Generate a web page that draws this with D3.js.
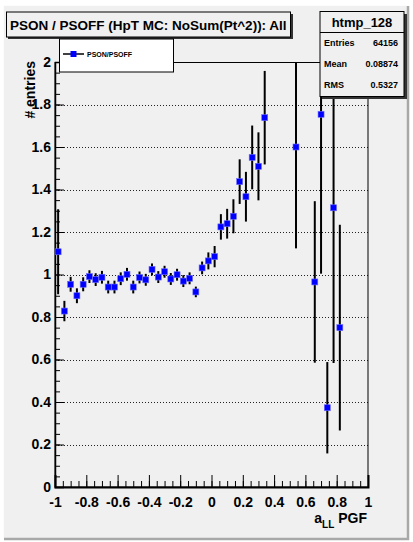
<!DOCTYPE html>
<html><head><meta charset="utf-8">
<script src="https://cdn.jsdelivr.net/npm/d3@7/dist/d3.min.js"></script>
<style>
body{margin:0;background:#fff}
svg text{font-family:"Liberation Sans",Arial,Helvetica,sans-serif;font-weight:bold;fill:#000}
</style>
</head><body><svg id="c" width="413" height="542"></svg>
<script>
// ---- data ----
const binCenters=[-0.98,-0.94,-0.90,-0.86,-0.82,-0.78,-0.74,-0.70,-0.66,-0.62,-0.58,-0.54,-0.50,-0.46,-0.42,-0.38,-0.34,-0.30,-0.26,-0.22,-0.18,-0.14,-0.10,-0.06,-0.02,0.02,0.06,0.10,0.14,0.18,0.22,0.26,0.30,0.34,0.54,0.66,0.70,0.74,0.78,0.82];
const ratio=[1.107,0.828,0.954,0.900,0.954,0.990,0.976,0.987,0.941,0.941,0.980,1.001,0.941,0.986,0.975,1.024,0.988,1.013,0.979,0.999,0.969,0.982,0.918,1.031,1.064,1.084,1.224,1.239,1.274,1.437,1.366,1.551,1.509,1.738,1.600,0.965,1.754,0.373,1.314,0.750];
const ratioErr=[0.20,0.048,0.035,0.035,0.033,0.03,0.03,0.03,0.03,0.03,0.03,0.03,0.03,0.028,0.028,0.028,0.028,0.028,0.028,0.028,0.028,0.028,0.025,0.03,0.04,0.05,0.06,0.07,0.08,0.105,0.117,0.15,0.16,0.22,0.477,0.38,0.75,0.215,0.73,0.484];
const xTickValues=[-1,-0.8,-0.6,-0.4,-0.2,0,0.2,0.4,0.6,0.8,1];
const xTickLabels=["-1","-0.8","-0.6","-0.4","-0.2","0","0.2","0.4","0.6","0.8","1"];
const yTickValues=[0,0.2,0.4,0.6,0.8,1,1.2,1.4,1.6,1.8,2];
const yTickLabels=["0","0.2","0.4","0.6","0.8","1","1.2","1.4","1.6","1.8","2"];
const titleText="PSON / PSOFF (HpT MC: NoSum(Pt^2)): All";
const statsName="htmp_128";
const statsLabels=["Entries","Mean","RMS"];
const statsValues=["64156","0.08874","0.5327"];
const legendLabel="PSON/PSOFF";
const yTitle="# entries";

// ---- layout ----
const L=55,R=368,T=62,B=487;
const svg=d3.select("#c");
const bg="#f0f0f0";

// canvas with bevel
svg.append("rect").attr("x",3).attr("y",5).attr("width",405).attr("height",534).attr("fill",bg);
svg.append("path").attr("d","M3,539 L3,5 L408,5").attr("fill","none").attr("stroke","#fff").attr("stroke-width",1.5);
svg.append("path").attr("d","M4,539 L408,539 L408,6").attr("fill","none").attr("stroke","#a8a8a8").attr("stroke-width",2.5);

const x=d3.scaleLinear().domain([-1,1]).range([L,R]);
const y=d3.scaleLinear().domain([0,2]).range([B,T]);

// grid
const g=svg.append("g");
g.selectAll("line.grid").data(yTickValues.filter(v=>v>0)).enter().append("line")
 .attr("x1",L).attr("x2",R).attr("y1",d=>Math.round(y(d))+0.5).attr("y2",d=>Math.round(y(d))+0.5)
 .attr("stroke","#222").attr("stroke-width",1).attr("stroke-dasharray","1,2");

// frame
svg.append("rect").attr("x",L).attr("y",T+0.5).attr("width",R-L).attr("height",B-T-0.5)
 .attr("fill","none").attr("stroke","#000").attr("stroke-width",1);

// minor ticks
const minorX=d3.range(-1,1.0001,0.05);
svg.append("g").attr("transform",`translate(0,${B})`)
 .call(d3.axisBottom(x).tickValues(minorX).tickSize(-6).tickFormat(""))
 .call(s=>s.select(".domain").remove())
 .selectAll("line").attr("stroke","#000");
const minorY=d3.range(0,2.0001,0.05);
svg.append("g").attr("transform",`translate(${L},0)`)
 .call(d3.axisLeft(y).tickValues(minorY).tickSize(-5).tickFormat(""))
 .call(s=>s.select(".domain").remove())
 .selectAll("line").attr("stroke","#000");

// major axes
const xa=svg.append("g").attr("transform",`translate(0,${B})`)
 .call(d3.axisBottom(x).tickValues(xTickValues).tickSize(-12).tickPadding(10)
   .tickFormat((d,i)=>xTickLabels[i]));
xa.select(".domain").attr("stroke","#000").attr("stroke-width",2);
xa.selectAll("line").attr("stroke","#000");
xa.selectAll("text").style("font-size","14px").style("font-family",'"Liberation Sans",Arial,sans-serif').style("font-weight","bold");

const ya=svg.append("g").attr("transform",`translate(${L},0)`)
 .call(d3.axisLeft(y).tickValues(yTickValues).tickSize(-9).tickPadding(4)
   .tickFormat((d,i)=>yTickLabels[i]));
ya.select(".domain").attr("stroke","#000").attr("stroke-width",1.5);
ya.selectAll("line").attr("stroke","#000");
ya.selectAll("text").style("font-size","14px").style("font-family",'"Liberation Sans",Arial,sans-serif').style("font-weight","bold");

// axis titles
svg.append("text").attr("transform","translate(35,61) rotate(-90)").attr("text-anchor","end")
 .style("font-size","14px").text(yTitle);
const xt=svg.append("text").attr("x",367).attr("y",523).attr("text-anchor","end").style("font-size","14px");
xt.append("tspan").text("a");
xt.append("tspan").attr("dy",5).style("font-size","10px").text("LL");
xt.append("tspan").attr("dy",-5).text(" PGF");

// data: error bars then markers
const pts=binCenters.map((c,i)=>({x:c,v:ratio[i],e:ratioErr[i]}));
const clip=v=>Math.max(0,Math.min(2,v));
svg.append("g").selectAll("line").data(pts).enter().append("line")
 .attr("x1",d=>x(d.x)).attr("x2",d=>x(d.x))
 .attr("y1",d=>y(clip(d.v+d.e))).attr("y2",d=>y(clip(d.v-d.e)))
 .attr("stroke","#000").attr("stroke-width",2);
svg.append("g").selectAll("rect").data(pts).enter().append("rect")
 .attr("x",d=>x(d.x)-3).attr("y",d=>y(d.v)-3).attr("width",6).attr("height",6)
 .attr("fill","#0000ff").attr("stroke","#6a6aff").attr("stroke-width",0.6);

// title box
svg.append("rect").attr("x",8).attr("y",14).attr("width",285).attr("height",25).attr("fill","#333");
svg.append("rect").attr("x",6.5).attr("y",12).attr("width",284).attr("height",25).attr("fill",bg).attr("stroke","#000").attr("stroke-width",1);
svg.append("text").attr("x",10).attr("y",29.5).style("font-size","13.5px").text(titleText);

// legend
svg.append("rect").attr("x",59.5).attr("y",39).attr("width",114).attr("height",33).attr("fill","#fff").attr("stroke","#000").attr("stroke-width",1);
svg.append("line").attr("x1",63).attr("x2",84).attr("y1",54).attr("y2",54).attr("stroke","#000").attr("stroke-width",1.5);
svg.append("rect").attr("x",70.5).attr("y",51).attr("width",6).attr("height",6).attr("fill","#0000ff");
svg.append("text").attr("x",87).attr("y",56.5).style("font-size","7px").text(legendLabel);

// stats box
svg.append("rect").attr("x",322).attr("y",14).attr("width",85).attr("height",85).attr("fill","#333");
svg.append("rect").attr("x",320).attr("y",11.5).attr("width",84).attr("height",85).attr("fill",bg).attr("stroke","#000").attr("stroke-width",1);
svg.append("line").attr("x1",320).attr("x2",404).attr("y1",32.5).attr("y2",32.5).attr("stroke","#000");
svg.append("text").attr("x",362).attr("y",26.5).attr("text-anchor","middle").style("font-size","13px").text(statsName);
const rowY=[46,67,88];
statsLabels.forEach((lab,i)=>{
  svg.append("text").attr("x",324).attr("y",rowY[i]).style("font-size","9px").text(lab);
  svg.append("text").attr("x",398).attr("y",rowY[i]).attr("text-anchor","end").style("font-size","9px").text(statsValues[i]);
});
</script></body></html>
